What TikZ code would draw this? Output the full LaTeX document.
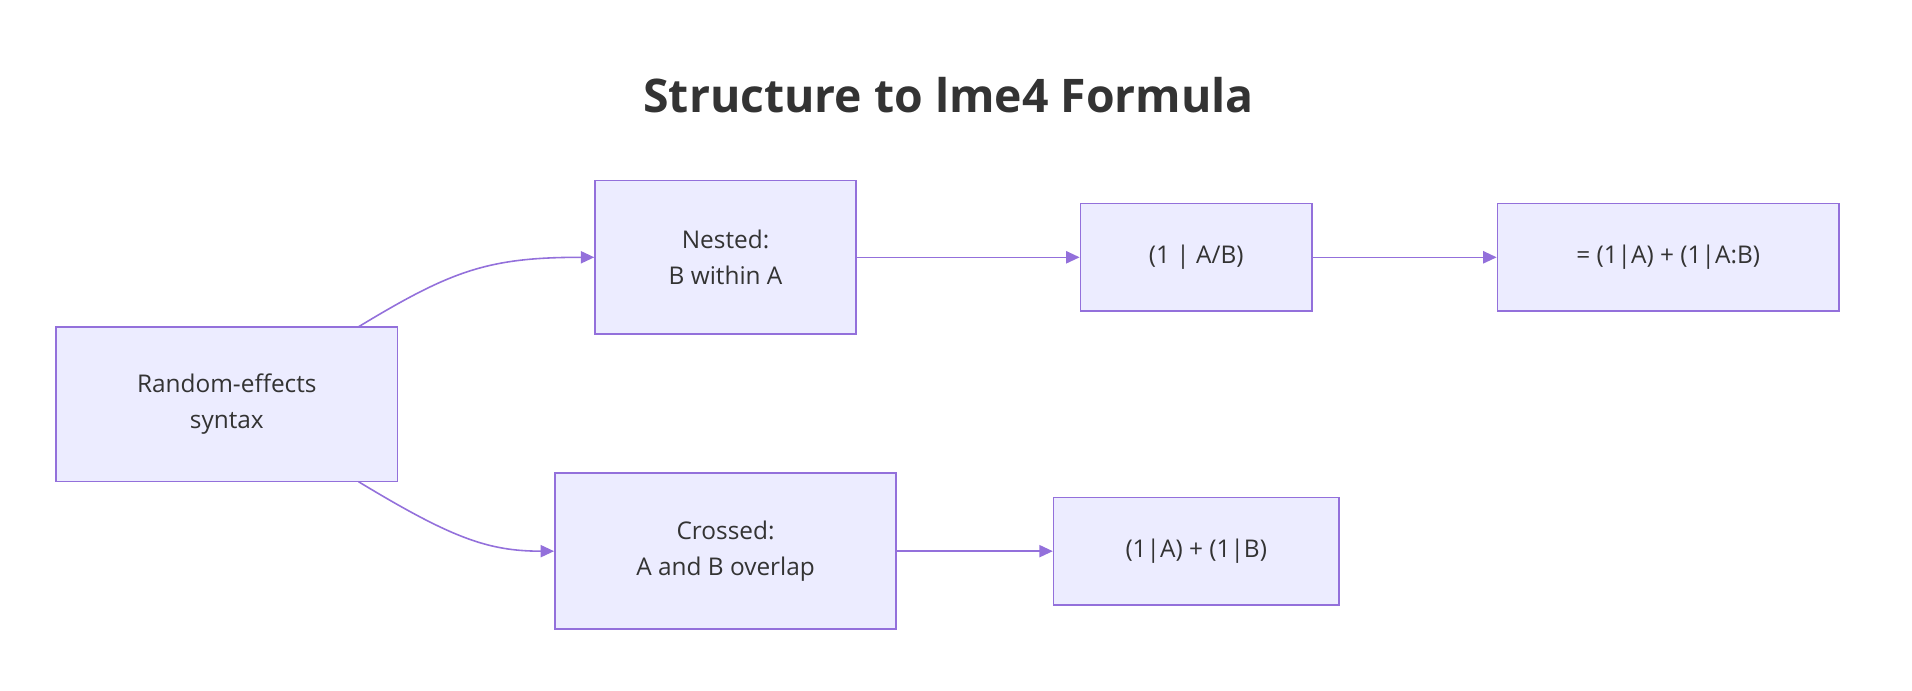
\documentclass[tikz,border=0pt]{standalone}
\usepackage{fontspec}
\setmainfont{Open Sans}
\usetikzlibrary{arrows.meta}
\definecolor{bfill}{HTML}{ECECFF}
\definecolor{bstroke}{HTML}{9370DB}
\definecolor{txt}{HTML}{333333}
\begin{document}
\begin{tikzpicture}[x=1pt,y=-1pt,
  box/.style={draw=bstroke,fill=bfill,line width=1.3pt,text=txt,align=center,font=\fontsize{20}{30}\selectfont,inner sep=0pt},
  arr/.style={draw=bstroke,line width=1.3pt,-{Triangle[length=11pt,width=10pt]}}]
\useasboundingbox (0,0) rectangle (1568,566);
\node[text=txt,font=\fontsize{38}{44}\selectfont\bfseries] (title) at (778,78) {Structure to lme4 Formula};
\node[box,minimum width=280pt,minimum height=127pt] (r) at (186,331.5) {Random-effects\\syntax};
\node[box,minimum width=214pt,minimum height=126pt] (n) at (595,211) {Nested:\\B within A};
\node[box,minimum width=190pt,minimum height=88pt] (n1) at (981,211) {(1 | A/B)};
\node[box,minimum width=280pt,minimum height=88pt] (n2) at (1368,211) {= (1|A) + (1|A:B)};
\node[box,minimum width=280pt,minimum height=128pt] (c) at (595,452) {Crossed:\\A and B overlap};
\node[box,minimum width=234pt,minimum height=88pt] (c1) at (981,452) {(1|A) + (1|B)};
\coordinate (rt) at (294,268);
\coordinate (rb) at (294,395);
\draw[arr] (rt) .. controls (370,222) and (400,211) .. (n.west);
\draw[arr] (rb) .. controls (370,441) and (400,452) .. (c.west);
\draw[arr] (n) -- (n1);
\draw[arr] (n1) -- (n2);
\draw[arr] (c) -- (c1);
\end{tikzpicture}
\end{document}
